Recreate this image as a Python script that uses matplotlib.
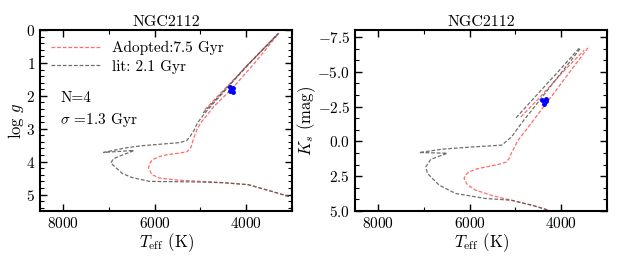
import numpy as np
import matplotlib
matplotlib.use("Agg")
from matplotlib import pyplot as plt
from matplotlib.ticker import MultipleLocator

plt.rcParams['font.family'] = 'serif'
plt.rcParams['font.serif'] = ['cmr10', 'DejaVu Serif']
plt.rcParams['mathtext.fontset'] = 'cm'
plt.rcParams['axes.formatter.use_mathtext'] = True
plt.rcParams['axes.unicode_minus'] = True

# adopted isochrone (7.5 Gyr), log g panel
ad_teff_g = [3067, 3500, 3956, 4500, 5000, 5500, 5889, 6050, 6133, 6100, 6044, 5900, 5733,
             5450, 5289, 5200, 5156, 5080, 5000, 4850, 4711, 4520, 4333, 3800, 3289]
ad_logg = [5.06, 4.88, 4.70, 4.64, 4.60, 4.56, 4.50, 4.40, 4.20, 4.05, 3.94, 3.85, 3.79,
           3.74, 3.70, 3.55, 3.33, 3.05, 2.83, 2.58, 2.33, 2.07, 1.82, 0.98, 0.10]
ad_agb_teff_g = [4904, 4600, 4200, 3800, 3300]
ad_agb_logg = [2.42, 1.98, 1.40, 0.82, 0.11]

# literature isochrone (2.1 Gyr), log g panel
lit_teff_g = [3067, 3500, 3956, 4500, 5000, 5500, 6111, 6500, 6711, 6956, 6900, 6778, 6550,
              6450, 7111, 6622, 6300, 5956, 5444, 5300, 5222, 5130, 5067, 4900, 4711, 4500,
              4000, 3289]
lit_logg = [5.06, 4.88, 4.70, 4.64, 4.62, 4.61, 4.60, 4.48, 4.35, 4.04, 3.92, 3.84, 3.72,
            3.66, 3.72, 3.58, 3.52, 3.48, 3.42, 3.36, 3.23, 3.03, 2.83, 2.52, 2.22, 1.90,
            1.10, 0.10]
lit_agb_teff_g = [4940, 4400, 3900, 3300]
lit_agb_logg = [2.52, 1.72, 0.98, 0.10]

# adopted isochrone, Ks panel
ad_teff_k = [3950, 4223, 4600, 5088, 5500, 5870, 6050, 6120, 6080, 6018, 5850, 5650, 5400,
             5196, 5130, 5088, 4937, 4650, 4350, 3900, 3386]
ad_ks = [5.3, 5.0, 4.62, 4.23, 3.9, 3.5, 3.1, 2.66, 2.4, 2.2, 1.98, 1.84, 1.68,
         1.48, 1.2, 0.85, -0.10, -1.32, -2.63, -4.60, -6.85]
ad_agb_teff_k = [4880, 4500, 4000, 3500]
ad_agb_ks = [-1.75, -3.05, -4.85, -6.55]

# literature isochrone, Ks panel
lit_teff_k = [3950, 4223, 4600, 5081, 5657, 6305, 6665, 6919, 6954, 6846, 6486, 7099, 6594,
              5946, 5297, 5081, 4865, 4400, 4000, 3568]
lit_ks = [5.3, 5.0, 4.62, 4.23, 4.10, 3.74, 3.14, 2.30, 1.82, 1.29, 0.85, 0.80, 0.56,
          0.40, 0.27, -0.33, -1.31, -3.25, -4.92, -6.73]
lit_agb_teff_k = [4984, 4500, 4000, 3600]
lit_agb_ks = [-1.70, -3.45, -5.25, -6.72]

# cluster stars
star_teff_g = [4348, 4282, 4296, 4348]
star_logg = [1.72, 1.77, 1.87, 1.84]
star_teff_k = [4410, 4324, 4324, 4380]
star_ks = [-3.00, -3.07, -2.90, -2.70]

red = '#ff6b6b'
grey = '#555555'
dash = (0, (3, 1.5))

fig = plt.figure(figsize=(6.23, 2.6), dpi=100)
ax1 = fig.add_axes([0.0642, 0.1885, 0.4045, 0.696])
ax2 = fig.add_axes([0.5698, 0.1885, 0.4045, 0.696])

def style(ax):
    ax.set_xlim(8500, 3000)
    ax.xaxis.set_major_locator(MultipleLocator(2000))
    ax.xaxis.set_minor_locator(MultipleLocator(1000))
    ax.tick_params(which='both', direction='in', top=True, right=True, labelsize=11)
    ax.tick_params(which='major', length=5, width=1)
    ax.tick_params(which='minor', length=3, width=0.8)
    for s in ax.spines.values():
        s.set_linewidth(1.5)
    ax.set_xlabel(r'$T_{\rm eff}$ (K)', fontsize=12, labelpad=0)
    ax.set_title('NGC2112', fontsize=11.5, pad=3)

# left: log g
ax1.plot(ad_teff_g, ad_logg, color=red, ls=dash, lw=0.9, label='Adopted:7.5 Gyr')
ax1.plot(ad_agb_teff_g, ad_agb_logg, color=red, ls=dash, lw=0.9)
ax1.plot(lit_teff_g, lit_logg, color=grey, ls=dash, lw=0.9, alpha=0.85, label='lit: 2.1 Gyr')
ax1.plot(lit_agb_teff_g, lit_agb_logg, color=grey, ls=dash, lw=0.9, alpha=0.85)
ax1.plot(star_teff_g, star_logg, 'o', color='blue', ms=2.5)
style(ax1)
ax1.set_ylim(5.5, 0)
ax1.yaxis.set_major_locator(MultipleLocator(1))
ax1.yaxis.set_minor_locator(MultipleLocator(0.2))
ax1.set_ylabel(r'log $g$', fontsize=12)
ax1.yaxis.set_label_coords(-0.055, 0.5)
ax1.legend(loc='upper left', frameon=False, fontsize=11, handlelength=3.2,
           borderaxespad=0.3, labelspacing=0.3)
ax1.text(0.08, 0.60, 'N=4', transform=ax1.transAxes, fontsize=11)
ax1.text(0.08, 0.48, r'$\sigma$ =1.3 Gyr', transform=ax1.transAxes, fontsize=11)

# right: Ks
ax2.plot(ad_teff_k, ad_ks, color=red, ls=dash, lw=0.9)
ax2.plot(ad_agb_teff_k, ad_agb_ks, color=red, ls=dash, lw=0.9)
ax2.plot(lit_teff_k, lit_ks, color=grey, ls=dash, lw=0.9, alpha=0.85)
ax2.plot(lit_agb_teff_k, lit_agb_ks, color=grey, ls=dash, lw=0.9, alpha=0.85)
ax2.plot(star_teff_k, star_ks, 'o', color='blue', ms=2.5)
style(ax2)
ax2.set_ylim(5, -8)
ax2.yaxis.set_major_locator(MultipleLocator(2.5))
ax2.yaxis.set_minor_locator(MultipleLocator(2.5 / 3))
ax2.set_ylabel(r'$K_s$ (mag)', fontsize=12)
ax2.yaxis.set_label_coords(-0.145, 0.5)

fig.savefig('out.png', dpi=100)
